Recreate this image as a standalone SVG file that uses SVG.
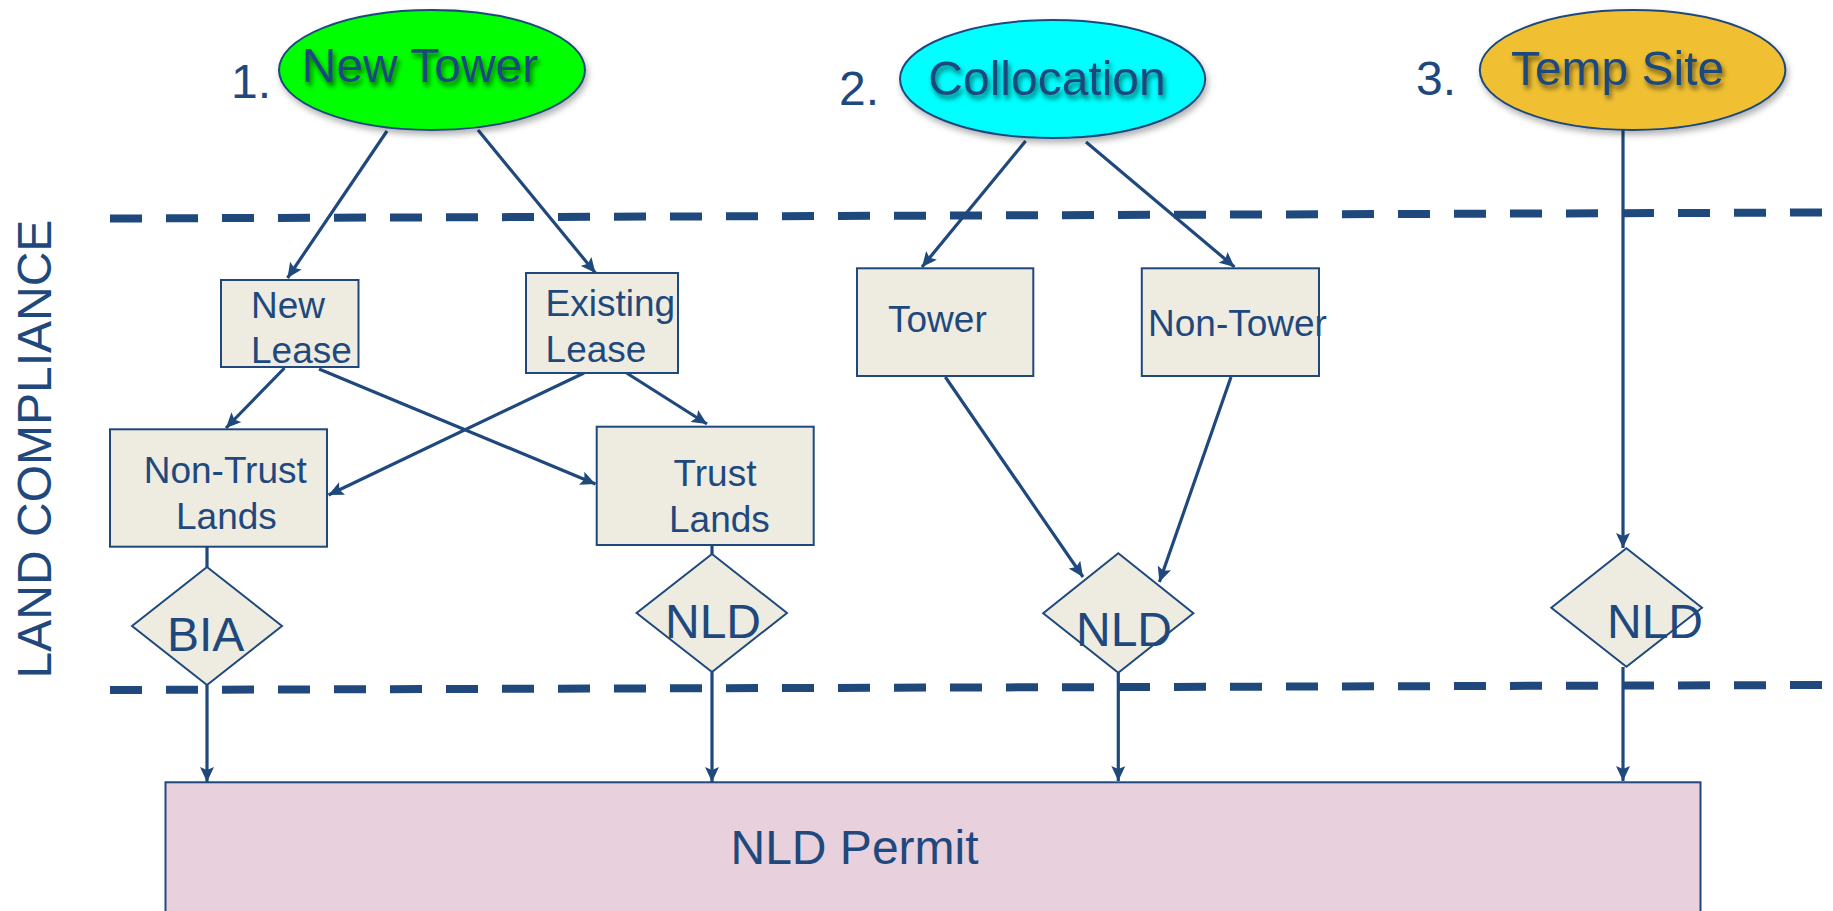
<svg xmlns="http://www.w3.org/2000/svg" width="1833" height="911" viewBox="0 0 1833 911">
<style>
text{font-family:"Liberation Sans",Arial,sans-serif;fill:#1f497d}
.big{font-size:48px}
.mid{font-size:37px}
.box{fill:#eeece1;stroke:#1f497d;stroke-width:2}
.ell{stroke:#1f497d;stroke-width:2}
.conn{stroke:#1f497d;stroke-width:3.2;fill:none}
.arr{marker-end:url(#ah)}
.dash{stroke:#1f497d;stroke-width:8;stroke-dasharray:32 24;fill:none}
</style>
<defs>
<marker id="ah" viewBox="0 0 15 14" refX="15" refY="7" markerWidth="15" markerHeight="14" markerUnits="userSpaceOnUse" orient="auto">
<path d="M0,0 L15,7 L0,14 L3,7 z" fill="#1f497d"/>
</marker>
<filter id="tsh" x="-10%" y="-20%" width="120%" height="160%">
<feGaussianBlur in="SourceAlpha" stdDeviation="2.5"/>
<feOffset dx="2" dy="4" result="b"/>
<feFlood flood-color="#000" flood-opacity="0.55"/>
<feComposite in2="b" operator="in"/>
<feMerge><feMergeNode/><feMergeNode in="SourceGraphic"/></feMerge>
</filter>
<filter id="esh" x="-10%" y="-10%" width="125%" height="130%">
<feGaussianBlur in="SourceAlpha" stdDeviation="3"/>
<feOffset dx="2" dy="4" result="b"/>
<feFlood flood-color="#000" flood-opacity="0.3"/>
<feComposite in2="b" operator="in"/>
<feMerge><feMergeNode/><feMergeNode in="SourceGraphic"/></feMerge>
</filter>
</defs>
<rect width="1833" height="911" fill="#fff"/>

<g id="lanes">
<line class="dash" x1="110" y1="218.5" x2="1823" y2="212.5"/>
<line class="dash" x1="110" y1="690" x2="1823" y2="685"/>
<text class="big" transform="translate(51,449) rotate(-90)" text-anchor="middle">LAND COMPLIANCE</text>
</g>

<g id="connectors">
<line class="conn arr" x1="387" y1="131" x2="287.5" y2="278"/>
<line class="conn arr" x1="478" y1="130" x2="595.5" y2="273"/>
<line class="conn arr" x1="284.5" y1="368" x2="226" y2="428"/>
<line class="conn arr" x1="319" y1="369" x2="595.5" y2="484"/>
<line class="conn arr" x1="584" y1="373" x2="328.5" y2="495"/>
<line class="conn arr" x1="626.6" y1="373" x2="707" y2="424"/>
<line class="conn arr" x1="1025.6" y1="141" x2="922" y2="267"/>
<line class="conn arr" x1="1086" y1="142" x2="1234.5" y2="267"/>
<line class="conn arr" x1="945.3" y1="377" x2="1083" y2="577"/>
<line class="conn arr" x1="1231" y1="377" x2="1159.4" y2="582"/>
<line class="conn arr" x1="1623" y1="130" x2="1623" y2="548"/>
<line class="conn" x1="207" y1="547" x2="207" y2="567"/>
<line class="conn" x1="712" y1="545" x2="712" y2="554"/>
<line class="conn arr" x1="207" y1="685" x2="207" y2="782"/>
<line class="conn arr" x1="712" y1="672" x2="712" y2="782"/>
<line class="conn arr" x1="1118.3" y1="673" x2="1118.3" y2="781"/>
<line class="conn arr" x1="1623" y1="667" x2="1623" y2="781"/>
</g>

<g id="new-tower">
<text class="big" x="231" y="98">1.</text>
<ellipse class="ell" cx="432" cy="70" rx="153" ry="60" fill="#00ff00" filter="url(#esh)"/>
<text class="big" x="420" y="82" text-anchor="middle" filter="url(#tsh)">New Tower</text>
</g>

<g id="collocation">
<text class="big" x="839" y="105">2.</text>
<ellipse class="ell" cx="1052.6" cy="79" rx="152.6" ry="59" fill="#00ffff" filter="url(#esh)"/>
<text class="big" x="1047" y="95" text-anchor="middle" filter="url(#tsh)">Collocation</text>
</g>

<g id="temp-site">
<text class="big" x="1416" y="95">3.</text>
<ellipse class="ell" cx="1632.6" cy="70" rx="152.8" ry="60" fill="#f0c030" filter="url(#esh)"/>
<text class="big" x="1617.6" y="85" text-anchor="middle" filter="url(#tsh)">Temp Site</text>
</g>

<g id="new-lease">
<rect class="box" x="221" y="280" width="137.5" height="87"/>
<text class="mid" x="251" y="318">New</text>
<text class="mid" x="251" y="363">Lease</text>
</g>

<g id="existing-lease">
<rect class="box" x="526" y="273" width="152" height="100"/>
<text class="mid" x="545.6" y="316">Existing</text>
<text class="mid" x="545.6" y="362">Lease</text>
</g>

<g id="tower">
<rect class="box" x="857" y="268.3" width="176.3" height="107.7"/>
<text class="mid" x="888" y="332">Tower</text>
</g>

<g id="non-tower">
<rect class="box" x="1141.8" y="268.3" width="177.2" height="107.7"/>
<text class="mid" x="1148" y="336">Non-Tower</text>
</g>

<g id="non-trust-lands">
<rect class="box" x="110" y="429.3" width="217" height="117.4"/>
<text class="mid" x="143.7" y="483">Non-Trust</text>
<text class="mid" x="176" y="529">Lands</text>
</g>

<g id="trust-lands">
<rect class="box" x="596.7" y="426.7" width="217" height="118.3"/>
<text class="mid" x="673.5" y="486">Trust</text>
<text class="mid" x="669" y="532">Lands</text>
</g>

<g id="bia">
<polygon class="box" points="207,567 282,626 207,685 132,626"/>
<text class="big" x="167" y="651">BIA</text>
</g>

<g id="nld-trust">
<polygon class="box" points="712,554 787,613 712,672 636.6,613"/>
<text class="big" x="665" y="638">NLD</text>
</g>

<g id="nld-collocation">
<polygon class="box" points="1118.3,553.3 1193.4,613.3 1118.3,672.7 1043.2,613.3"/>
<text class="big" x="1076" y="646">NLD</text>
</g>

<g id="nld-temp">
<polygon class="box" points="1626.4,548.3 1702,607.7 1626.4,666.7 1551.3,607.7"/>
<text class="big" x="1607" y="638">NLD</text>
</g>

<g id="nld-permit">
<rect x="165.5" y="782.3" width="1535" height="140" fill="#e8d0dc" stroke="#1f497d" stroke-width="2"/>
<text class="big" x="730.5" y="864">NLD Permit</text>
</g>
</svg>
